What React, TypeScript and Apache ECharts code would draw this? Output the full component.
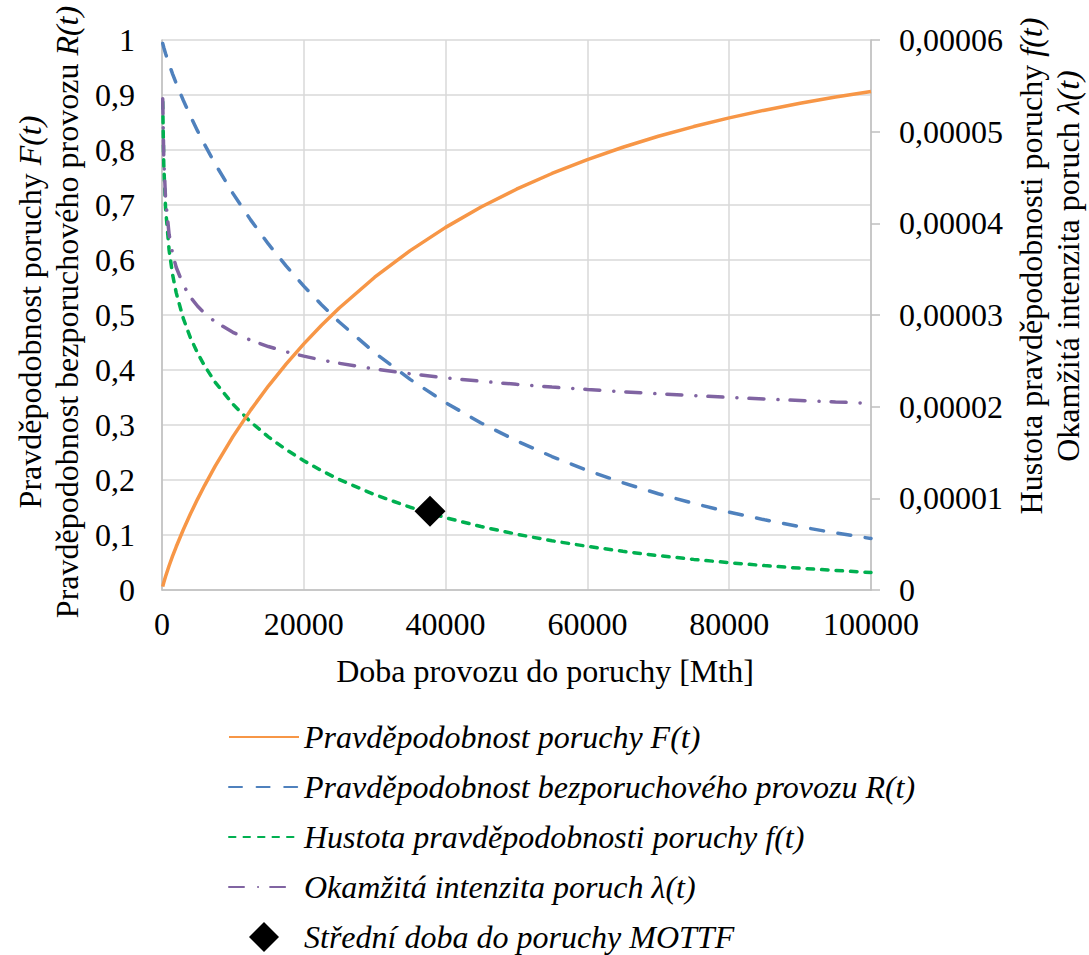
import React, { useEffect, useRef } from "react";
import * as echarts from "echarts";

const FONT = "Liberation Serif";

const times = [100, 250, 500, 1000, 1500, 2000, 3000, 4000, 5000, 6000, 7500, 10000, 12500, 15000, 17500, 20000, 22500, 25000, 30000, 35000, 40000, 45000, 50000, 55000, 60000, 65000, 70000, 75000, 80000, 85000, 90000, 95000, 100000];
const failureProb = [0.0062, 0.0136, 0.0245, 0.0441, 0.0619, 0.0786, 0.1096, 0.1381, 0.1648, 0.1899, 0.2253, 0.2789, 0.327, 0.3708, 0.4107, 0.4475, 0.4813, 0.5127, 0.5687, 0.6171, 0.6593, 0.6963, 0.7287, 0.7573, 0.7826, 0.805, 0.825, 0.8426, 0.8584, 0.8724, 0.885, 0.8963, 0.9064];
const reliability = [0.9938, 0.9864, 0.9755, 0.9559, 0.9381, 0.9214, 0.8904, 0.8619, 0.8352, 0.8101, 0.7747, 0.7211, 0.673, 0.6292, 0.5893, 0.5525, 0.5187, 0.4873, 0.4313, 0.3829, 0.3407, 0.3037, 0.2713, 0.2427, 0.2174, 0.195, 0.175, 0.1574, 0.1416, 0.1276, 0.115, 0.1037, 0.0936];
const density = [5.325e-5, 4.645e-5, 4.169e-5, 3.709e-5, 3.438e-5, 3.244e-5, 2.963e-5, 2.754e-5, 2.587e-5, 2.446e-5, 2.267e-5, 2.027e-5, 1.834e-5, 1.671e-5, 1.532e-5, 1.41e-5, 1.302e-5, 1.205e-5, 1.04e-5, 9.03e-6, 7.89e-6, 6.92e-6, 6.09e-6, 5.37e-6, 4.76e-6, 4.22e-6, 3.75e-6, 3.34e-6, 2.98e-6, 2.66e-6, 2.38e-6, 2.13e-6, 1.91e-6];
const hazard = [5.358e-5, 4.709e-5, 4.274e-5, 3.88e-5, 3.665e-5, 3.521e-5, 3.328e-5, 3.195e-5, 3.098e-5, 3.019e-5, 2.926e-5, 2.811e-5, 2.724e-5, 2.656e-5, 2.599e-5, 2.551e-5, 2.509e-5, 2.473e-5, 2.41e-5, 2.359e-5, 2.315e-5, 2.277e-5, 2.244e-5, 2.214e-5, 2.188e-5, 2.163e-5, 2.141e-5, 2.12e-5, 2.101e-5, 2.083e-5, 2.067e-5, 2.051e-5, 2.037e-5];
const mottfTime = [37800];
const mottfValue = [8.6e-6];

const seriesNames = [
  "Pravděpodobnost poruchy F(t)",
  "Pravděpodobnost bezporuchového provozu R(t)",
  "Hustota pravděpodobnosti poruchy f(t)",
  "Okamžitá intenzita poruch λ(t)",
  "Střední doba do poruchy MOTTF",
];

const pairs = (ys: number[]) => times.map((t, i) => [t, ys[i]]);

export default function App() {
  const ref = useRef<HTMLDivElement>(null);
  useEffect(() => {
    if (!ref.current) return;
    const chart = echarts.init(ref.current, null, { renderer: "svg" });
    const axisLabel = { fontFamily: FONT, fontSize: 32, color: "#000" };
    const richBase = { fontFamily: FONT, fontSize: 32, fill: "#000", lineHeight: 37 };
    const richItal = { fontFamily: FONT, fontSize: 32, fill: "#000", fontStyle: "italic", lineHeight: 37 };
    const lineCommon = { type: "line", smooth: false, symbol: "none" };
    chart.setOption({
      animation: false,
      backgroundColor: "#fff",
      textStyle: { fontFamily: FONT },
      grid: { left: 162, right: 218, top: 40, bottom: 365, containLabel: false },
      xAxis: {
        type: "value",
        min: 0,
        max: 100000,
        interval: 20000,
        axisLine: { show: true, lineStyle: { color: "#BFBFBF", width: 1.5 } },
        axisTick: { show: false },
        axisLabel: { ...axisLabel, margin: 18, formatter: (v: number) => String(v) },
        splitLine: { show: true, lineStyle: { color: "#D9D9D9", width: 1.5 } },
      },
      yAxis: [
        {
          type: "value",
          min: 0,
          max: 1,
          interval: 0.1,
          position: "left",
          axisLine: { show: true, lineStyle: { color: "#BFBFBF", width: 1.5 } },
          axisTick: { show: false },
          axisLabel: {
            ...axisLabel,
            margin: 27,
            formatter: (v: number) => String(Math.round(v * 10) / 10).replace(".", ","),
          },
          splitLine: { show: true, lineStyle: { color: "#D9D9D9", width: 1.5 } },
        },
        {
          type: "value",
          min: 0,
          max: 0.00006,
          interval: 0.00001,
          position: "right",
          axisLine: { show: true, lineStyle: { color: "#BFBFBF", width: 1.5 } },
          axisTick: { show: true, inside: false, length: 9, lineStyle: { color: "#BFBFBF", width: 1.5 } },
          axisLabel: {
            ...axisLabel,
            margin: 28,
            formatter: (v: number) => (v === 0 ? "0" : v.toFixed(5).replace(".", ",")),
          },
          splitLine: { show: false },
        },
      ],
      legend: {
        orient: "vertical",
        left: 228,
        top: 721,
        padding: 0,
        itemWidth: 70,
        itemHeight: 30,
        itemGap: 18,
        symbolKeepAspect: true,
        data: [
          { name: seriesNames[0], itemStyle: { opacity: 0 } },
          { name: seriesNames[1], itemStyle: { opacity: 0 } },
          { name: seriesNames[2], itemStyle: { opacity: 0 } },
          { name: seriesNames[3], itemStyle: { opacity: 0 } },
          { name: seriesNames[4], icon: "path://M15,0 L30,15 L15,30 L0,15 Z" },
        ],
        textStyle: { fontFamily: FONT, fontSize: 32, fontStyle: "italic", color: "#000" },
      },
      graphic: [
        {
          type: "text",
          x: 48,
          y: 312,
          rotation: Math.PI / 2,
          style: {
            text: "{a|Pravděpodobnost poruchy }{b|F(t)}\n{a|Pravděpodobnost bezporuchového provozu }{b|R(t)}",
            rich: { a: richBase, b: richItal },
            fontFamily: FONT,
            align: "center",
            verticalAlign: "middle",
          },
        },
        {
          type: "text",
          x: 1049,
          y: 266,
          rotation: Math.PI / 2,
          style: {
            text: "{a|Hustota pravděpodobnosti poruchy }{b|f(t)}\n{a|Okamžitá intenzita poruch }{b|λ(t)}",
            rich: { a: richBase, b: richItal },
            fontFamily: FONT,
            align: "center",
            verticalAlign: "middle",
          },
        },
        {
          type: "text",
          x: 545,
          y: 671,
          style: {
            text: "Doba provozu do poruchy [Mth]",
            fontFamily: FONT,
            fontSize: 32,
            fill: "#000",
            align: "center",
            verticalAlign: "middle",
          },
        },
      ],
      series: [
        {
          ...lineCommon,
          name: seriesNames[0],
          yAxisIndex: 0,
          data: pairs(failureProb),
          color: "#F79646",
          lineStyle: { color: "#F79646", width: 3.5 },
          z: 5,
        },
        {
          ...lineCommon,
          name: seriesNames[1],
          yAxisIndex: 0,
          data: pairs(reliability),
          color: "#4F81BD",
          lineStyle: { color: "#4F81BD", width: 3.5, type: [13, 14.6], cap: "round" },
          z: 4,
        },
        {
          ...lineCommon,
          name: seriesNames[2],
          yAxisIndex: 1,
          data: pairs(density),
          color: "#00B050",
          lineStyle: { color: "#00B050", width: 3.5, type: [6.5, 8], cap: "round" },
          z: 3,
        },
        {
          ...lineCommon,
          name: seriesNames[3],
          yAxisIndex: 1,
          data: pairs(hazard),
          color: "#8064A2",
          lineStyle: { color: "#8064A2", width: 3.5, type: [15, 14, 0.1, 12], cap: "round" },
          z: 3,
        },
        {
          name: seriesNames[4],
          type: "scatter",
          yAxisIndex: 1,
          data: mottfTime.map((t, i) => [t, mottfValue[i]]),
          symbol: "diamond",
          symbolSize: 31,
          color: "#000",
          itemStyle: { color: "#000", opacity: 1 },
          z: 10,
        },
      ],
    });
    return () => chart.dispose();
  }, []);
  return <div ref={ref} style={{ width: 1089, height: 955, position: "absolute", left: 0, top: 0 }} />;
}
